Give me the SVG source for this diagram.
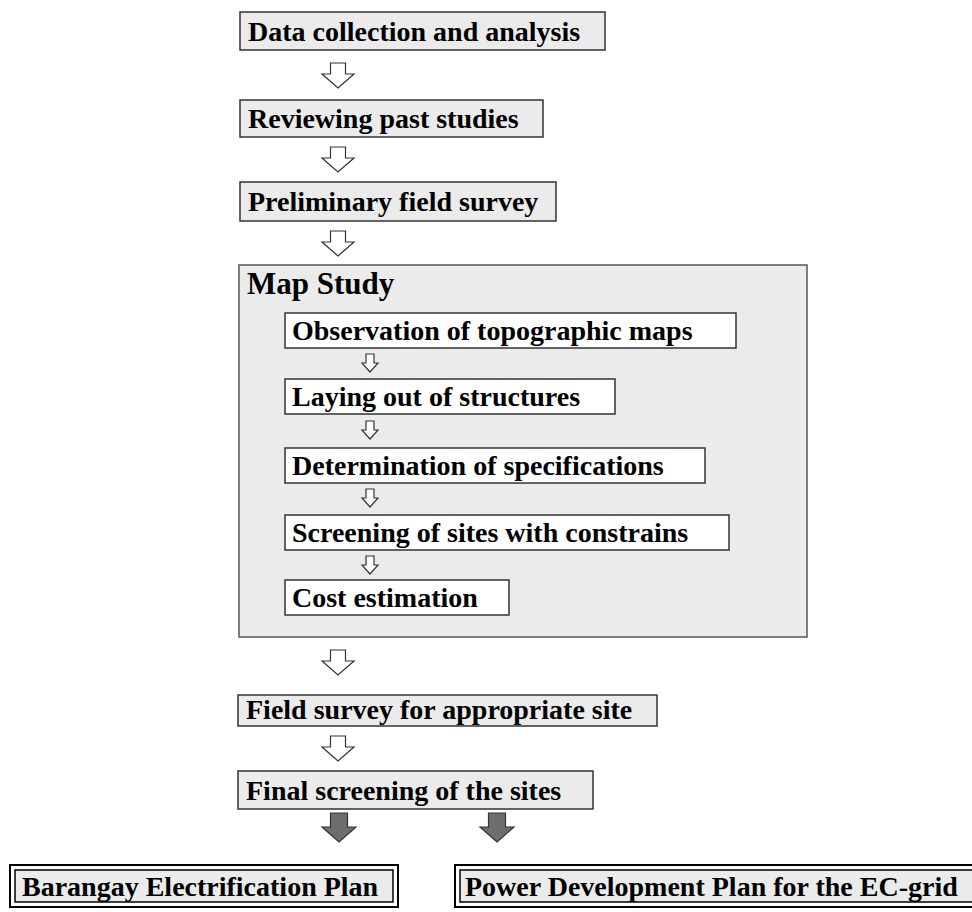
<svg xmlns="http://www.w3.org/2000/svg" width="972" height="912" viewBox="0 0 972 912">
<defs>
<style>
.box{fill:#ebebeb;stroke:#333;stroke-width:1.5}
.ibox{fill:#fff;stroke:#333;stroke-width:1.5}
.frame{fill:#ebebeb;stroke:#555;stroke-width:1.5}
.t{font-family:"Liberation Serif","Times New Roman",serif;font-weight:bold;font-size:28px;fill:#000}
.big{font-size:31px}
.arr{fill:#fff;stroke:#333;stroke-width:1.2}
.dark{fill:#6e6e6e;stroke:#333;stroke-width:1.2}
.dbo{fill:#fff;stroke:#000;stroke-width:2}
.dbi{fill:#ebebeb;stroke:#000;stroke-width:1.5}
</style>
<path id="bigArrow" d="M-7.5,0 H7.5 V11 H16 L0,25 L-16,11 H-7.5 Z"/>
<path id="smallArrow" d="M-4,0 H4 V9 H8 L0,18 L-8,9 H-4 Z"/>
<path id="darkArrow" d="M-8.5,0 H8.5 V14 H17 L0,29 L-17,14 H-8.5 Z"/>
</defs>
<rect width="972" height="912" fill="#fff"/>

<g id="n1"><rect class="box" x="240" y="12" width="365" height="38"/><text class="t" x="248" y="41">Data collection and analysis</text></g>
<g id="n2"><rect class="box" x="240" y="100" width="303" height="37"/><text class="t" x="248" y="128">Reviewing past studies</text></g>
<g id="n3"><rect class="box" x="240" y="182" width="316" height="39"/><text class="t" x="248" y="211">Preliminary field survey</text></g>
<g id="map"><rect class="frame" x="239" y="265" width="568" height="372"/><text class="t big" x="247" y="294">Map Study</text></g>
<g id="m1"><rect class="ibox" x="285" y="313" width="451" height="35"/><text class="t" x="292" y="340">Observation of topographic maps</text></g>
<g id="m2"><rect class="ibox" x="285" y="379" width="330" height="35"/><text class="t" x="292" y="406">Laying out of structures</text></g>
<g id="m3"><rect class="ibox" x="285" y="448" width="420" height="35"/><text class="t" x="292" y="475">Determination of specifications</text></g>
<g id="m4"><rect class="ibox" x="285" y="515" width="444" height="35"/><text class="t" x="292" y="542">Screening of sites with constrains</text></g>
<g id="m5"><rect class="ibox" x="285" y="580" width="224" height="35"/><text class="t" x="292" y="607">Cost estimation</text></g>
<g id="n4"><rect class="box" x="238" y="695" width="419" height="31"/><text class="t" x="246" y="719">Field survey for appropriate site</text></g>
<g id="n5"><rect class="box" x="238" y="771" width="355" height="38"/><text class="t" x="246" y="800">Final screening of the sites</text></g>
<g id="o1"><rect class="dbo" x="10" y="865" width="388" height="42"/><rect class="dbi" x="15" y="870" width="378" height="32"/><text class="t" x="22" y="896">Barangay Electrification Plan</text></g>
<g id="o2"><rect class="dbo" x="455" y="865" width="530" height="42"/><rect class="dbi" x="460" y="870" width="520" height="32"/><text class="t" x="465" y="896">Power Development Plan for the EC-grid</text></g>

<g id="connectors">
<use href="#bigArrow" class="arr" x="338" y="63"/>
<use href="#bigArrow" class="arr" x="338" y="147"/>
<use href="#bigArrow" class="arr" x="338" y="231"/>
<use href="#smallArrow" class="arr" x="370" y="354"/>
<use href="#smallArrow" class="arr" x="370" y="421"/>
<use href="#smallArrow" class="arr" x="370" y="489"/>
<use href="#smallArrow" class="arr" x="370" y="556"/>
<use href="#bigArrow" class="arr" x="338" y="650"/>
<use href="#bigArrow" class="arr" x="338" y="736"/>
<use href="#darkArrow" class="dark" x="339" y="813"/>
<use href="#darkArrow" class="dark" x="497" y="813"/>
</g>
</svg>
